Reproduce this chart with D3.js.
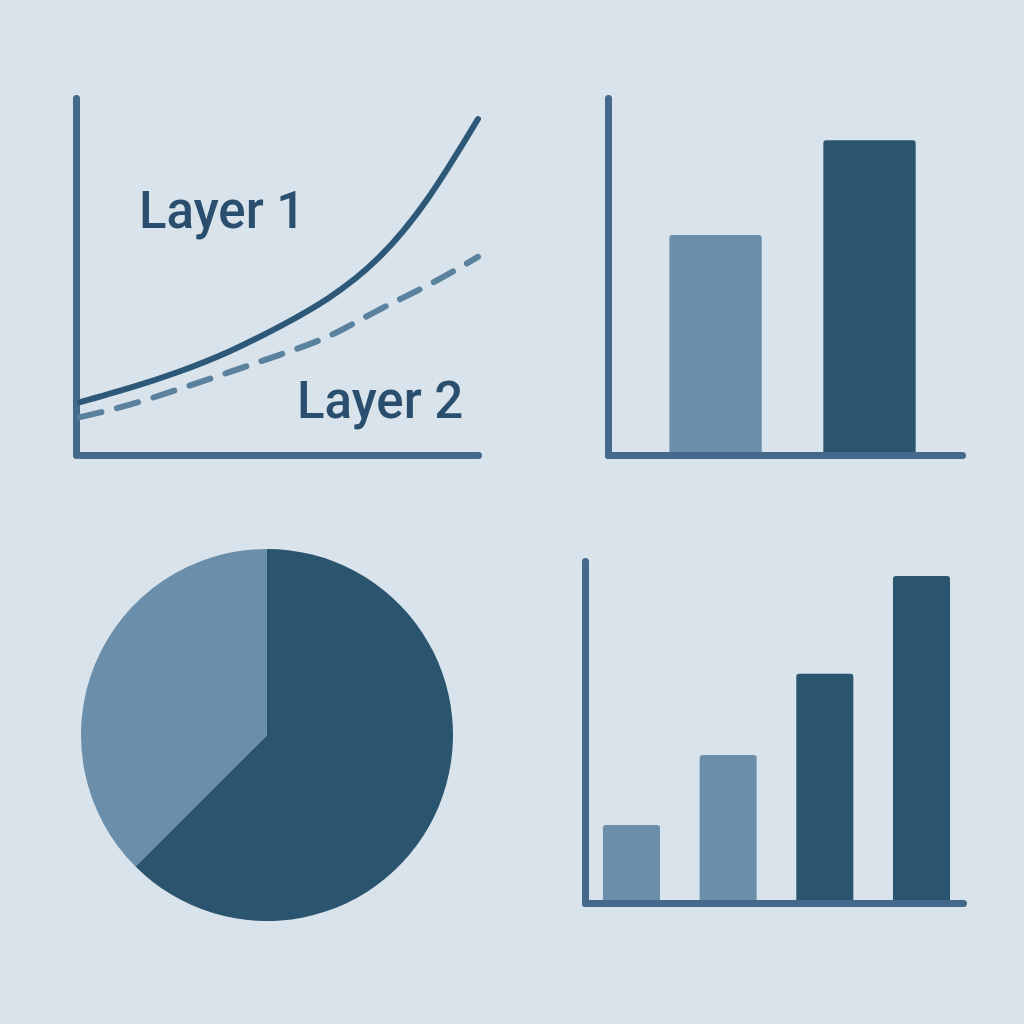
<!DOCTYPE html>
<html>
<head>
<meta charset="utf-8">
<script src="https://cdn.jsdelivr.net/npm/d3@7"></script>
<style>
  html, body { margin: 0; padding: 0; background: #d9e3eb; }
  svg { display: block; }
</style>
</head>
<body>
<svg id="chart" width="1024" height="1024"></svg>
<script>
// ---- data ----
const steps = [0, 1, 2, 3, 4, 5, 6, 7, 8];
const layer1 = [14.8, 18.8, 23.4, 29, 35.9, 44, 55.2, 72, 94.1];
const layer2 = [10.6, 14.1, 18.5, 23.2, 28, 33.3, 40.6, 47.6, 55.5];
const seriesNames = ["Layer 1", "Layer 2"];

const pairCats = ["A", "B"];
const pairValues = [61.6, 88.2];

const pieCats = ["Major", "Minor"];
const pieValues = [62.5, 37.5];

const quadCats = ["Q1", "Q2", "Q3", "Q4"];
const quadValues = [22.8, 43.3, 67, 95.6];

// ---- colours ----
const axisColor = "#45698a";
const lightFill = "#6b8fab";
const darkFill = "#2b546f";
const solidColor = "#2e5878";
const dashColor = "#5a819e";
const textColor = "#2a4f6e";

const svg = d3.select('#chart');

svg.append('rect')
    .attr('width', 1024)
    .attr('height', 1024)
    .attr('fill', '#d9e3eb');

function styleAxis(g) {
  g.select('.domain')
      .attr('stroke', axisColor)
      .attr('stroke-width', 7)
      .attr('stroke-linecap', 'round');
  g.selectAll('.tick').remove();
}

function lineChart() {
  const x = d3.scaleLinear().domain(d3.extent(steps)).range([80, 478]);
  const y = d3.scaleLinear().domain([0, 100]).range([455, 98]);

  const g = svg.append('g');

  g.append('g')
      .attr('transform', `translate(0,455)`)
      .call(d3.axisBottom(x).tickValues([]).tickSizeOuter(0))
      .call(styleAxis);

  g.append('g')
      .attr('transform', `translate(76,0)`)
      .call(d3.axisLeft(y).tickValues([]).tickSizeOuter(0))
      .call(styleAxis);

  const line = d3.line()
      .x((d, i) => x(steps[i]))
      .y(d => y(d))
      .curve(d3.curveNatural);

  g.append('path')
      .datum(layer2)
      .attr('d', line)
      .attr('fill', 'none')
      .attr('stroke', dashColor)
      .attr('stroke-width', 6)
      .attr('stroke-linecap', 'round')
      .attr('stroke-dasharray', '22 16');

  g.append('path')
      .datum(layer1)
      .attr('d', line)
      .attr('fill', 'none')
      .attr('stroke', solidColor)
      .attr('stroke-width', 6)
      .attr('stroke-linecap', 'round');

  const labelPos = [[139, 228], [297, 418]];
  g.selectAll('text.label')
    .data(seriesNames)
    .join('text')
      .attr('class', 'label')
      .attr('x', (d, i) => labelPos[i][0])
      .attr('y', (d, i) => labelPos[i][1])
      .attr('fill', textColor)
      .attr('font-family', 'Roboto, sans-serif')
      .attr('font-weight', 500)
      .attr('font-size', 51)
      .text(d => d);
}

function barChart(cats, values, left, right, top, bottom, pad, outer, align) {
  const x = d3.scaleBand()
      .domain(cats)
      .range([left, right])
      .paddingInner(pad)
      .paddingOuter(outer)
      .align(align);
  const y = d3.scaleLinear().domain([0, 100]).range([bottom, top]);

  const g = svg.append('g');

  g.selectAll('rect')
    .data(values)
    .join('rect')
      .attr('x', (d, i) => x(cats[i]))
      .attr('y', d => y(d))
      .attr('width', x.bandwidth())
      .attr('height', d => y(0) - y(d))
      .attr('rx', 3)
      .attr('fill', (d, i) => i < cats.length / 2 ? lightFill : darkFill);

  g.append('g')
      .attr('transform', `translate(0,${bottom})`)
      .call(d3.axisBottom(x).tickValues([]).tickSizeOuter(0))
      .call(styleAxis);

  g.append('g')
      .attr('transform', `translate(${left},0)`)
      .call(d3.axisLeft(y).tickValues([]).tickSizeOuter(0))
      .call(styleAxis);
}

function pieChart() {
  const pie = d3.pie().sort(null);
  const arc = d3.arc().innerRadius(0).outerRadius(186);
  const color = d3.scaleOrdinal().domain(pieCats).range([darkFill, lightFill]);

  svg.append('g')
      .attr('transform', 'translate(267,735)')
    .selectAll('path')
    .data(pie(pieValues))
    .join('path')
      .attr('d', arc)
      .attr('fill', (d, i) => color(pieCats[i]));
}

lineChart();
barChart(pairCats, pairValues, 608, 962, 98, 455, 0.4, 0.35, 0.57);
pieChart();
barChart(quadCats, quadValues, 585, 963, 561, 903, 0.41, 0.16, 0.58);
</script>
</body>
</html>
